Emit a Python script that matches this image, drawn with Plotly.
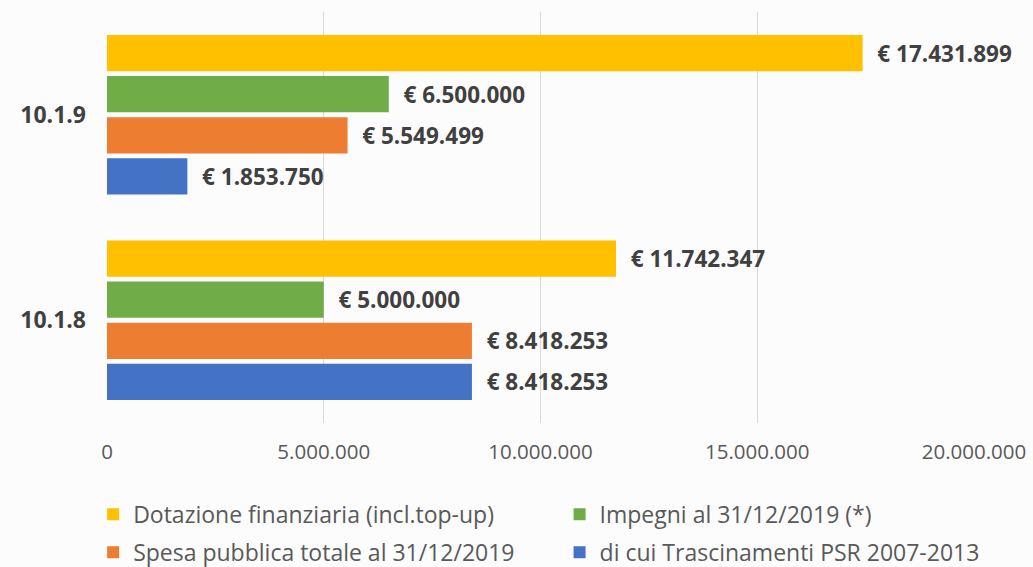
import plotly.graph_objects as go

categories = ["10.1.8", "10.1.9"]
series_names = [
    "di cui Trascinamenti PSR 2007-2013",
    "Spesa pubblica totale al 31/12/2019",
    "Impegni al 31/12/2019 (*)",
    "Dotazione finanziaria (incl.top-up)",
]
trascinamenti = [8418253, 1853750]
spesa = [8418253, 5549499]
impegni = [5000000, 6500000]
dotazione = [11742347, 17431899]
tick_vals = [0, 5000000, 10000000, 15000000, 20000000]
tick_text = ["0", "5.000.000", "10.000.000", "15.000.000", "20.000.000"]

colors = ["#4472C4", "#ED7D31", "#70AD47", "#FFC000"]
legend_ids = ["legend2", "legend", "legend2", "legend"]
legend_ranks = [2, 2, 1, 1]
font_family = "'Open Sans', sans-serif"


def fmt(v):
    return "€ " + f"{v:,}".replace(",", ".")


fig = go.Figure()
for i, (name, vals, col) in enumerate(zip(series_names, [trascinamenti, spesa, impegni, dotazione], colors)):
    fig.add_trace(go.Bar(
        y=categories, x=vals, name=name, orientation="h",
        marker=dict(color=col, line=dict(width=0)),
        text=["  " + fmt(v) for v in vals],
        textposition="outside", constraintext="none",
        textfont=dict(family=font_family, size=22.5, color="#404040", weight="bold"),
        cliponaxis=False, legend=legend_ids[i], legendgroup=f"g{i}",
        legendrank=legend_ranks[i],
    ))

legend_common = dict(orientation="v", traceorder="grouped", yanchor="top", xanchor="left",
                     font=dict(family=font_family, size=23, color="#595959"),
                     bgcolor="rgba(0,0,0,0)", itemwidth=30, tracegroupgap=5)

fig.update_layout(
    width=1033, height=567,
    barmode="group", bargap=0.2, bargroupgap=0.12,
    paper_bgcolor="#FCFCFC", plot_bgcolor="#FCFCFC",
    margin=dict(l=107, r=59, t=12, b=144, autoexpand=False),
    font=dict(family=font_family, color="#595959"),
    xaxis=dict(range=[0, 20000000], tickvals=tick_vals, ticktext=tick_text,
               showgrid=True, gridcolor="#D9D9D9", gridwidth=1, zeroline=False,
               showline=False, tickfont=dict(size=20.5, color="#595959"), ticklen=0,
               ticks="", ticklabelstandoff=14, automargin=False),
    yaxis=dict(tickfont=dict(size=23, color="#404040", weight="bold"),
               showgrid=False, showline=False, zeroline=False, ticks="",
               ticklabelstandoff=20, automargin=False),
    legend=dict(x=-0.016, y=-0.17, **legend_common),
    legend2=dict(x=0.522, y=-0.17, **legend_common),
    showlegend=True,
)

fig.write_html("out.html", config={"displayModeBar": False},
               post_script="document.body.style.margin='0';document.body.style.overflow='hidden';")
